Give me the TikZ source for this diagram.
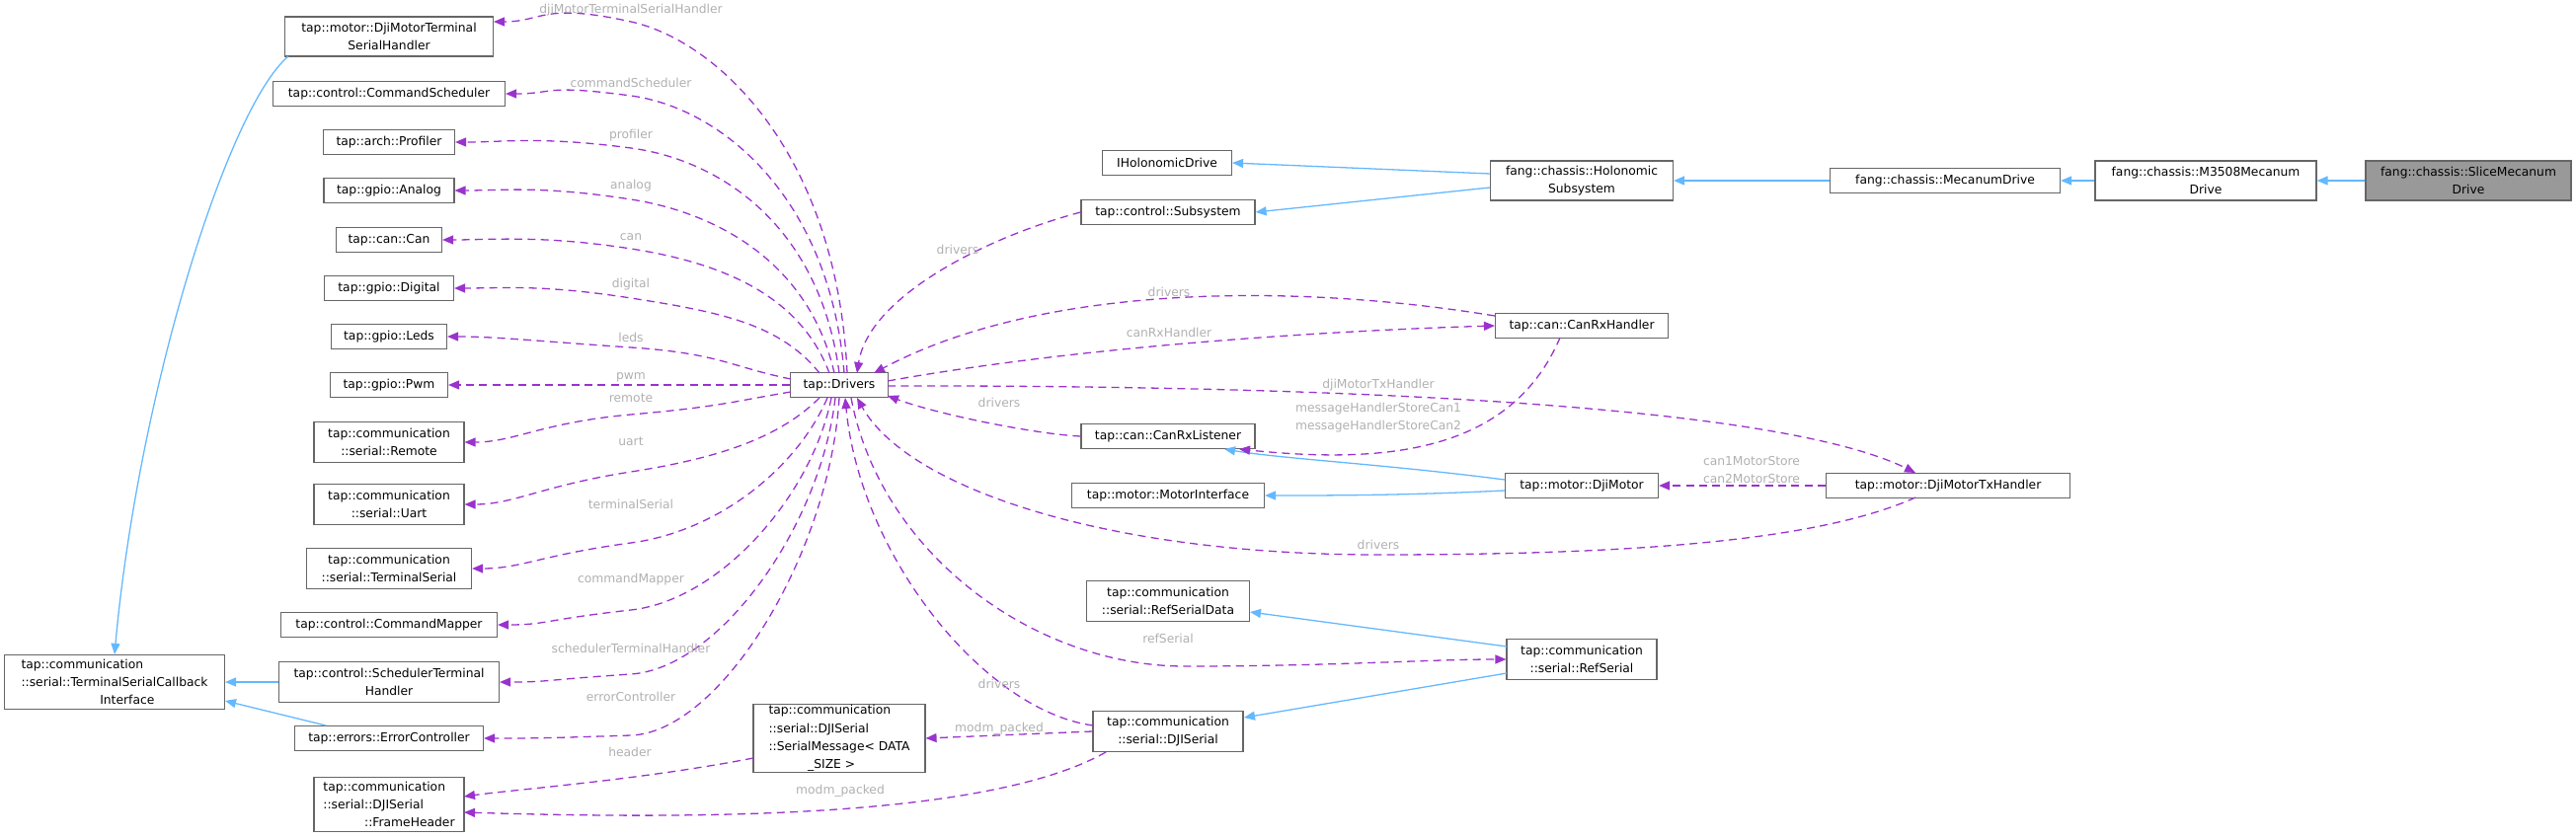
\documentclass[tikz,border=0pt]{standalone}
\usepackage{fontspec}
\setmainfont{DejaVu Sans}
\usetikzlibrary{arrows.meta}
\definecolor{pur}{HTML}{9A32CD}
\definecolor{blu}{HTML}{63B8FF}
\definecolor{lab}{HTML}{B0B0B0}
\newcommand\bx[7][]{\node[box,minimum width={#5*0.03cm},minimum height={#6*0.03cm},#1] (#2) at (#3,#4) {#7};}
% \lc{start}{c1}{My}{t}{end}{label}{labely}
\newcommand\lc[7]{\draw[mem] (#1) .. controls +(#2) and +(90,#4) .. (639,#3) .. controls +(-90,-#4) and +(50,0) .. (#5); \node[lb] at (639,#7) {#6};}
\begin{document}
\begin{tikzpicture}[x=0.03cm,y=-0.03cm,
  box/.style={draw=black!60,line width=1pt,fill=white,inner sep=1pt,align=center,font=\fontsize{10.5}{15.5}\selectfont},
  inh/.style={draw=blu,line width=1.1pt,-{Triangle[length=0.33cm,width=0.27cm]}},
  mem/.style={draw=pur,line width=1.1pt,dash pattern=on 2.4mm off 1.6mm,-{Triangle[length=0.33cm,width=0.27cm]}},
  lb/.style={text=lab,font=\fontsize{10.5}{15.5}\selectfont,inner sep=0pt,align=center}]
\useasboundingbox (0,0) rectangle (2609,849);
% left column
\bx{dmtsh}{394}{37}{211}{40}{tap::motor::DjiMotorTerminal\\SerialHandler}
\bx{csch}{394}{95}{235}{25}{tap::control::CommandScheduler}
\bx{prof}{394}{144}{133}{25}{tap::arch::Profiler}
\bx{anal}{394}{193}{132}{25}{tap::gpio::Analog}
\bx{can}{394}{243}{107}{25}{tap::can::Can}
\bx{dig}{394}{292}{131}{25}{tap::gpio::Digital}
\bx{leds}{394}{341}{117}{25}{tap::gpio::Leds}
\bx{pwm}{394}{390}{119}{25}{tap::gpio::Pwm}
\bx{rem}{394}{448}{152}{41}{tap::communication\\::serial::Remote}
\bx{uart}{394}{511}{152}{41}{tap::communication\\::serial::Uart}
\bx{tser}{394}{576}{167}{41}{tap::communication\\::serial::TerminalSerial}
\bx{cmap}{394}{633}{219}{25}{tap::control::CommandMapper}
\bx{sth}{394}{691}{223}{41}{tap::control::SchedulerTerminal\\Handler}
\bx{err}{394}{748}{191}{25}{tap::errors::ErrorController}
\bx[align=left]{fh}{394}{815}{152}{55}{tap::communication\\::serial::DJISerial\\\hphantom{::serial}::FrameHeader}
\bx[align=left]{tsci}{116}{691}{223}{55}{tap::communication\\::serial::TerminalSerialCallback\\\hphantom{::serial::Term}Interface}
\bx{drv}{850}{390}{99}{25}{tap::Drivers}
\bx[align=left]{smsg}{850}{748}{174}{69}{tap::communication\\::serial::DJISerial\\::SerialMessage< DATA\\\hphantom{::Seria}\_SIZE >}
% middle
\bx{ihd}{1182}{165}{131}{25}{IHolonomicDrive}
\bx{sub}{1183}{215}{176}{25}{tap::control::Subsystem}
\bx{crl}{1183}{442}{176}{25}{tap::can::CanRxListener}
\bx{mi}{1183}{502}{195}{25}{tap::motor::MotorInterface}
\bx{rsd}{1183}{609}{165}{41}{tap::communication\\::serial::RefSerialData}
\bx{djis}{1183}{741}{152}{41}{tap::communication\\::serial::DJISerial}
\bx{hol}{1602}{183}{185}{40}{fang::chassis::Holonomic\\Subsystem}
\bx{crh}{1602}{330}{175}{25}{tap::can::CanRxHandler}
\bx{djm}{1602}{492}{155}{25}{tap::motor::DjiMotor}
\bx{rs}{1602}{668}{152}{41}{tap::communication\\::serial::RefSerial}
\bx{mec}{1970}{183}{233}{25}{fang::chassis::MecanumDrive}
\bx{dtx}{1973}{492}{247}{25}{tap::motor::DjiMotorTxHandler}
\bx{m35}{2234}{183}{224}{40}{fang::chassis::M3508Mecanum\\Drive}
\bx[fill=black!40]{slc}{2500}{183}{208}{40}{fang::chassis::SliceMecanum\\Drive}
% inheritance
\draw[inh] (slc) -- (m35);
\draw[inh] (m35) -- (mec);
\draw[inh] (mec) -- (hol);
\draw[inh] (1509,176) -- (ihd.east);
\draw[inh] (1509,190) -- (sub.east);
\draw[inh] (1524,486) .. controls (1400,470) and (1300,465) .. (1240,455);
\draw[inh] (1524,497) .. controls (1420,502) and (1350,502) .. (mi.east);
\draw[inh] (1526,655) -- (1266,620);
\draw[inh] (1526,682) -- (1260,727);
\draw[inh] (292,57) .. controls (230,110) and (140,400) .. (tsci.north);
\draw[inh] (sth.west) -- (tsci.east |- sth.west);
\draw[inh] (330,735) -- (228,710);
% members from Drivers to left column
\lc{858,378}{-10,-220}{22}{20}{500,22}{djiMotorTerminalSerialHandler}{10}
\lc{855,378}{-15,-180}{97}{12}{csch.east}{commandScheduler}{84}
\lc{850,378}{-20,-150}{150}{12}{prof.east}{profiler}{137}
\lc{845,378}{-25,-110}{202}{14}{anal.east}{analog}{188}
\lc{840,378}{-30,-80}{252}{14}{can.east}{can}{240}
\lc{830,378}{-40,-50}{302}{14}{dig.east}{digital}{288}
\lc{801,384}{-60,-12}{352}{6}{leds.east}{leds}{342}
\draw[mem] (drv.west) -- (pwm.east); \node[lb] at (639,382) {pwm};
\lc{801,397}{-60,10}{420}{-8}{rem.east}{remote}{403}
\lc{830,403}{-40,40}{478}{-14}{uart.east}{uart}{447}
\lc{838,403}{-30,70}{550}{-12}{tser.east}{terminalSerial}{511}
\lc{842,403}{-20,100}{618}{-10}{cmap.east}{commandMapper}{587}
\lc{846,403}{-15,130}{683}{-6}{sth.east}{schedulerTerminalHandler}{657}
\lc{850,403}{-10,160}{745}{-3}{err.east}{errorController}{706}
% middle members
\draw[mem] (sub.west) .. controls (1000,240) and (880,300) .. (868,378);
\node[lb] at (970,253) {drivers};
\draw[mem] (1514,320) .. controls (1300,285) and (1050,290) .. (885,378);
\node[lb] at (1184,296) {drivers};
\draw[mem] (899,386) .. controls (1100,350) and (1350,335) .. (crh.west);
\node[lb] at (1184,337) {canRxHandler};
\draw[mem] (899,391) .. controls (1350,390) and (1800,410) .. (1940,479);
\node[lb] at (1396,390) {djiMotorTxHandler};
\draw[mem] (crl.west) .. controls (1050,440) and (950,420) .. (899,401);
\node[lb] at (1012,408) {drivers};
\draw[mem] (1580,342) .. controls (1530,460) and (1400,470) .. (1255,455);
\node[lb] at (1396,423) {messageHandlerStoreCan1\\messageHandlerStoreCan2};
\draw[mem] (dtx.west) -- (djm.east);
\node[lb] at (1774,476) {can1MotorStore\\can2MotorStore};
\draw[mem] (1940,504) .. controls +(-100,45) and +(250,0) .. (1396,562) .. controls +(-280,0) and +(50,90) .. (868,403);
\node[lb] at (1396,552) {drivers};
\draw[mem] (862,403) .. controls +(30,160) and +(-150,0) .. (1200,675) .. controls +(150,0) and +(-80,0) .. (rs.west);
\node[lb] at (1183,647) {refSerial};
\draw[mem] (1107,735) .. controls +(-110,-15) and +(15,160) .. (856,403);
\node[lb] at (1012,693) {drivers};
\draw[mem] (djis.west) -- (smsg.east);
\node[lb] at (1012,738) {modm\_packed};
\draw[mem] (763,768) .. controls (650,790) and (520,800) .. (470,807);
\node[lb] at (638,762) {header};
\draw[mem] (1120,762) .. controls (1000,830) and (700,830) .. (470,823);
\node[lb] at (851,801) {modm\_packed};
\end{tikzpicture}
\end{document}
